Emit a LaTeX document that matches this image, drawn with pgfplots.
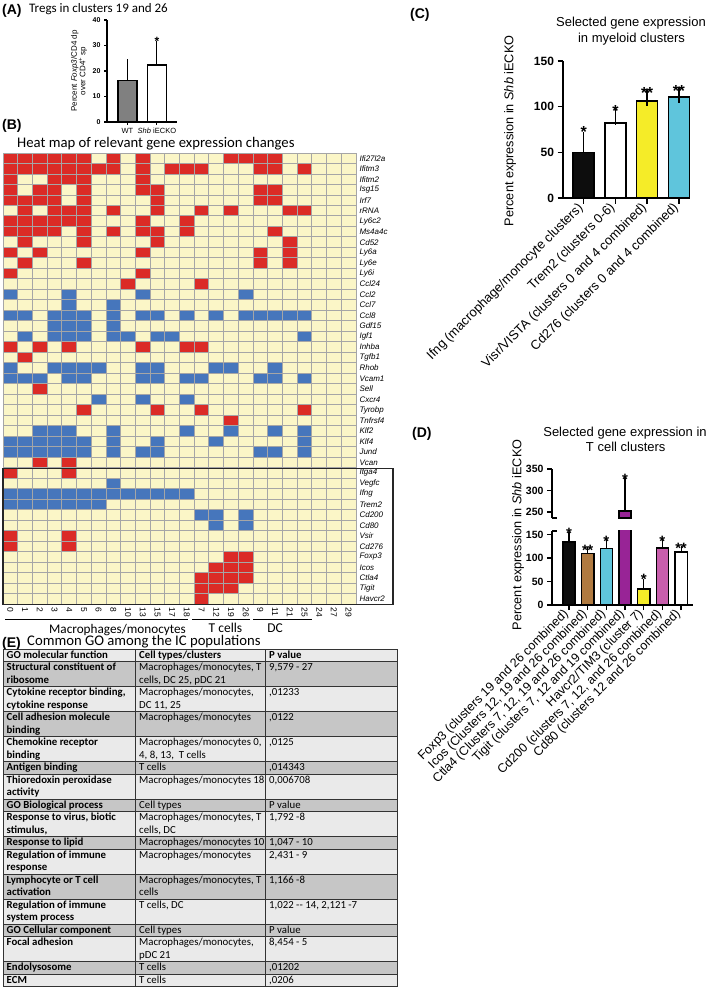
\documentclass[border=0pt]{standalone}
\usepackage{fontspec}
\setmainfont{Liberation Sans}
\newfontfamily\cf{Carlito}
\usepackage{pgfplots}
\pgfplotsset{compat=1.18}
\definecolor{cyanbar}{RGB}{95,197,220}
\definecolor{yelbar}{RGB}{245,236,40}
\definecolor{brownbar}{RGB}{176,122,64}
\definecolor{purpbar}{RGB}{152,36,150}
\definecolor{pinkbar}{RGB}{200,94,172}
\definecolor{tdark}{RGB}{198,198,198}
\definecolor{tlight}{RGB}{234,234,234}
\newcommand{\tfont}{\cf\fontsize{10.8}{12.5}\selectfont}
\tikzset{tline/.style={line width=0.7pt, black!80},
  star/.style={font=\bfseries\fontsize{16}{16}\selectfont, anchor=base, inner sep=0pt, yshift=-9.3pt},
  stard/.style={font=\bfseries\fontsize{15}{15}\selectfont, anchor=base, inner sep=0pt, yshift=-8.7pt}}
\newcommand{\trow}[6]{%
  \fill[#3] (3pt,{-#1pt}) rectangle (397pt,{-#2pt});
  \draw[tline] (3pt,{-#1pt}) -- (397pt,{-#1pt});
  \node[anchor=base west, inner sep=0pt, font=\tfont\bfseries] at (6.5pt,{-(#1+9.3)*1pt}) {\begin{tabular}[t]{@{}l@{}}#4\end{tabular}};
  \node[anchor=base west, inner sep=0pt, font=\tfont] at (139pt,{-(#1+9.3)*1pt}) {\begin{tabular}[t]{@{}l@{}}#5\end{tabular}};
  \node[anchor=base west, inner sep=0pt, font=\tfont] at (269pt,{-(#1+9.3)*1pt}) {\begin{tabular}[t]{@{}l@{}}#6\end{tabular}};
}
\begin{document}
\begin{tikzpicture}
\useasboundingbox (0,0) rectangle (709pt,-992pt);

% ---------------- Panel A ----------------
\node[anchor=base west, inner sep=0pt, font=\bfseries\fontsize{14}{16}\selectfont] at (2pt,-14.5pt) {(A)};
\node[anchor=base west, inner sep=0pt, font=\cf\fontsize{13}{15}\selectfont] at (29pt,-12.5pt) {Tregs in clusters 19 and 26};
\begin{axis}[at={(107pt,-122pt)}, anchor=south west, scale only axis, width=70pt, height=102pt,
  xmin=-0.69, xmax=1.68, ymin=0, ymax=40,
  axis x line*=bottom, axis y line*=left, axis line style={line width=1.2pt},
  tick style={line width=1.1pt, black}, tick align=outside, major tick length=3pt,
  /pgf/number format/assume math mode=true,
  xtick={0,1}, xticklabels={WT, \textit{Shb} iECKO},
  xticklabel style={font=\fontsize{7.5}{9}\selectfont},
  ytick={0,10,20,30,40}, yticklabel style={font=\bfseries\fontsize{7}{8}\selectfont},
  ylabel={Percent \textit{Foxp3}/CD4 dp\\over CD4\textsuperscript{+} sp},
  ylabel style={align=center, font=\fontsize{8}{8.5}\selectfont, at={(axis description cs:-0.40,0.5)}, anchor=center},
  clip mode=individual]
\addplot[ybar, bar width=19pt, bar shift=0pt, fill=gray, draw=black, line width=1.5pt,
  error bars/.cd, y dir=plus, y explicit, error bar style={line width=1pt}, error mark options={line width=1pt, mark size=6pt}]
  coordinates {(0,16.2) +- (0,6.1)};
\addplot[ybar, bar width=19pt, bar shift=0pt, fill=white, draw=black, line width=1.5pt,
  error bars/.cd, y dir=plus, y explicit, error bar style={line width=1pt}, error mark options={line width=1pt, mark size=6pt}]
  coordinates {(1,22.3) +- (0,7.2)};
\node[font=\bfseries\fontsize{12}{12}\selectfont, anchor=base, inner sep=0pt, yshift=-7pt] at (axis cs:1,32.8) {*};
\end{axis}

% ---------------- Panel B ----------------
\node[anchor=base west, inner sep=0pt, font=\bfseries\fontsize{14}{16}\selectfont] at (2pt,-130pt) {(B)};
\node[anchor=base west, inner sep=0pt, font=\cf\fontsize{14.7}{17}\selectfont] at (17pt,-147.7pt) {Heat map of relevant gene expression changes};
\begin{axis}[at={(3pt,-604pt)}, anchor=south west, scale only axis, width=353pt, height=451pt,
  xmin=-0.5, xmax=23.5, ymin=-0.5, ymax=42.5, y dir=reverse,
  colormap={hm}{rgb255(0)=(251,246,199) rgb255(1)=(219,43,38) rgb255(2)=(70,118,188)},
  point meta min=0, point meta max=2,
  xtick={0,...,23}, xticklabels={0,1,2,3,4,5,6,8,10,13,15,17,18,7,12,19,26,9,11,21,25,24,27,29},
  xticklabel style={rotate=-90, anchor=west, font=\fontsize{8.5}{9}\selectfont},
  ytick={0,...,42}, yticklabel pos=right,
  yticklabels={Ifi27l2a,Ifitm3,Ifitm2,Isg15,Irf7,rRNA,Ly6c2,Ms4a4c,Cd52,Ly6a,Ly6e,Ly6i,Ccl24,Ccl2,Ccl7,Ccl8,Gdf15,Igf1,Inhba,Tgfb1,Rhob,Vcam1,Sell,Cxcr4,Tyrobp,Tnfrsf4,Klf2,Klf4,Jund,Vcan,Itga4,Vegfc,Ifng,Trem2,Cd200,Cd80,Vsir,Cd276,Foxp3,Icos,Ctla4,Tigit,Havcr2},
  yticklabel style={font=\itshape\fontsize{8}{9}\selectfont, anchor=west},
  major tick length=0pt, minor tick length=0pt,
  minor xtick={-0.5,0.5,...,23.5}, minor ytick={-0.5,0.5,...,42.5},
  grid=minor, minor grid style={draw=gray!70, line width=0.9pt},
  axis line style={draw=gray!70, line width=0.9pt},
  axis on top]
\addplot[matrix plot*, mesh/cols=24, point meta=explicit] table[meta=c, row sep=\\] {
x y c\\
0 0 1\\1 0 1\\2 0 1\\3 0 1\\4 0 1\\5 0 1\\6 0 0\\7 0 1\\8 0 0\\9 0 1\\10 0 0\\11 0 0\\12 0 0\\13 0 0\\14 0 0\\15 0 1\\16 0 1\\17 0 1\\18 0 1\\19 0 0\\20 0 0\\21 0 0\\22 0 0\\23 0 0\\
0 1 1\\1 1 1\\2 1 1\\3 1 1\\4 1 1\\5 1 1\\6 1 1\\7 1 1\\8 1 0\\9 1 1\\10 1 0\\11 1 1\\12 1 1\\13 1 1\\14 1 0\\15 1 0\\16 1 0\\17 1 1\\18 1 1\\19 1 0\\20 1 1\\21 1 0\\22 1 0\\23 1 0\\
0 2 1\\1 2 0\\2 2 0\\3 2 1\\4 2 1\\5 2 1\\6 2 0\\7 2 0\\8 2 0\\9 2 1\\10 2 0\\11 2 0\\12 2 0\\13 2 0\\14 2 0\\15 2 0\\16 2 0\\17 2 0\\18 2 0\\19 2 0\\20 2 0\\21 2 0\\22 2 0\\23 2 0\\
0 3 1\\1 3 0\\2 3 1\\3 3 1\\4 3 0\\5 3 1\\6 3 0\\7 3 0\\8 3 0\\9 3 1\\10 3 1\\11 3 0\\12 3 0\\13 3 0\\14 3 0\\15 3 0\\16 3 0\\17 3 1\\18 3 1\\19 3 0\\20 3 0\\21 3 0\\22 3 0\\23 3 0\\
0 4 1\\1 4 1\\2 4 1\\3 4 1\\4 4 0\\5 4 1\\6 4 0\\7 4 0\\8 4 0\\9 4 0\\10 4 1\\11 4 0\\12 4 0\\13 4 0\\14 4 0\\15 4 0\\16 4 0\\17 4 1\\18 4 1\\19 4 0\\20 4 0\\21 4 0\\22 4 0\\23 4 0\\
0 5 0\\1 5 1\\2 5 0\\3 5 1\\4 5 1\\5 5 1\\6 5 0\\7 5 1\\8 5 0\\9 5 0\\10 5 1\\11 5 0\\12 5 0\\13 5 1\\14 5 0\\15 5 1\\16 5 0\\17 5 0\\18 5 0\\19 5 1\\20 5 1\\21 5 0\\22 5 0\\23 5 0\\
0 6 1\\1 6 1\\2 6 1\\3 6 1\\4 6 1\\5 6 1\\6 6 0\\7 6 0\\8 6 0\\9 6 1\\10 6 0\\11 6 0\\12 6 1\\13 6 0\\14 6 0\\15 6 0\\16 6 0\\17 6 0\\18 6 0\\19 6 0\\20 6 0\\21 6 0\\22 6 0\\23 6 0\\
0 7 1\\1 7 1\\2 7 1\\3 7 1\\4 7 0\\5 7 1\\6 7 0\\7 7 1\\8 7 0\\9 7 1\\10 7 1\\11 7 0\\12 7 1\\13 7 0\\14 7 0\\15 7 0\\16 7 0\\17 7 0\\18 7 1\\19 7 0\\20 7 0\\21 7 0\\22 7 0\\23 7 0\\
0 8 0\\1 8 1\\2 8 0\\3 8 0\\4 8 0\\5 8 1\\6 8 0\\7 8 0\\8 8 0\\9 8 0\\10 8 1\\11 8 0\\12 8 0\\13 8 0\\14 8 0\\15 8 0\\16 8 0\\17 8 0\\18 8 0\\19 8 1\\20 8 0\\21 8 0\\22 8 0\\23 8 0\\
0 9 1\\1 9 0\\2 9 1\\3 9 0\\4 9 0\\5 9 0\\6 9 0\\7 9 0\\8 9 0\\9 9 1\\10 9 0\\11 9 0\\12 9 0\\13 9 0\\14 9 0\\15 9 0\\16 9 0\\17 9 1\\18 9 0\\19 9 1\\20 9 0\\21 9 0\\22 9 0\\23 9 0\\
0 10 0\\1 10 1\\2 10 0\\3 10 0\\4 10 0\\5 10 1\\6 10 0\\7 10 0\\8 10 0\\9 10 0\\10 10 0\\11 10 0\\12 10 0\\13 10 0\\14 10 0\\15 10 0\\16 10 0\\17 10 1\\18 10 0\\19 10 1\\20 10 0\\21 10 0\\22 10 0\\23 10 0\\
0 11 1\\1 11 0\\2 11 0\\3 11 0\\4 11 0\\5 11 0\\6 11 0\\7 11 0\\8 11 0\\9 11 1\\10 11 0\\11 11 0\\12 11 0\\13 11 0\\14 11 0\\15 11 0\\16 11 0\\17 11 0\\18 11 0\\19 11 0\\20 11 0\\21 11 0\\22 11 0\\23 11 0\\
0 12 0\\1 12 0\\2 12 0\\3 12 0\\4 12 0\\5 12 0\\6 12 0\\7 12 0\\8 12 1\\9 12 0\\10 12 0\\11 12 0\\12 12 0\\13 12 1\\14 12 0\\15 12 0\\16 12 0\\17 12 0\\18 12 0\\19 12 0\\20 12 0\\21 12 0\\22 12 0\\23 12 0\\
0 13 2\\1 13 0\\2 13 0\\3 13 0\\4 13 2\\5 13 0\\6 13 0\\7 13 0\\8 13 0\\9 13 2\\10 13 0\\11 13 0\\12 13 0\\13 13 0\\14 13 0\\15 13 0\\16 13 2\\17 13 0\\18 13 0\\19 13 0\\20 13 0\\21 13 0\\22 13 0\\23 13 0\\
0 14 0\\1 14 0\\2 14 0\\3 14 0\\4 14 2\\5 14 0\\6 14 0\\7 14 2\\8 14 0\\9 14 0\\10 14 0\\11 14 0\\12 14 0\\13 14 0\\14 14 0\\15 14 0\\16 14 0\\17 14 0\\18 14 0\\19 14 0\\20 14 0\\21 14 0\\22 14 0\\23 14 0\\
0 15 2\\1 15 2\\2 15 0\\3 15 2\\4 15 2\\5 15 2\\6 15 0\\7 15 2\\8 15 0\\9 15 2\\10 15 2\\11 15 0\\12 15 2\\13 15 0\\14 15 2\\15 15 0\\16 15 2\\17 15 2\\18 15 2\\19 15 2\\20 15 2\\21 15 0\\22 15 0\\23 15 0\\
0 16 0\\1 16 0\\2 16 0\\3 16 2\\4 16 2\\5 16 2\\6 16 0\\7 16 2\\8 16 0\\9 16 0\\10 16 0\\11 16 0\\12 16 0\\13 16 0\\14 16 0\\15 16 0\\16 16 0\\17 16 0\\18 16 0\\19 16 0\\20 16 0\\21 16 0\\22 16 0\\23 16 0\\
0 17 0\\1 17 2\\2 17 0\\3 17 2\\4 17 2\\5 17 2\\6 17 0\\7 17 2\\8 17 2\\9 17 0\\10 17 2\\11 17 2\\12 17 0\\13 17 0\\14 17 0\\15 17 0\\16 17 0\\17 17 0\\18 17 0\\19 17 0\\20 17 2\\21 17 0\\22 17 0\\23 17 0\\
0 18 1\\1 18 0\\2 18 1\\3 18 0\\4 18 1\\5 18 0\\6 18 0\\7 18 0\\8 18 0\\9 18 1\\10 18 0\\11 18 0\\12 18 1\\13 18 1\\14 18 0\\15 18 0\\16 18 0\\17 18 0\\18 18 0\\19 18 0\\20 18 0\\21 18 0\\22 18 0\\23 18 0\\
0 19 0\\1 19 1\\2 19 0\\3 19 0\\4 19 0\\5 19 0\\6 19 0\\7 19 0\\8 19 0\\9 19 0\\10 19 0\\11 19 0\\12 19 0\\13 19 0\\14 19 0\\15 19 0\\16 19 0\\17 19 0\\18 19 0\\19 19 0\\20 19 0\\21 19 0\\22 19 0\\23 19 0\\
0 20 2\\1 20 0\\2 20 0\\3 20 2\\4 20 2\\5 20 2\\6 20 2\\7 20 0\\8 20 0\\9 20 2\\10 20 2\\11 20 0\\12 20 0\\13 20 0\\14 20 2\\15 20 2\\16 20 0\\17 20 0\\18 20 2\\19 20 0\\20 20 0\\21 20 0\\22 20 0\\23 20 0\\
0 21 2\\1 21 2\\2 21 2\\3 21 0\\4 21 2\\5 21 2\\6 21 0\\7 21 0\\8 21 0\\9 21 2\\10 21 2\\11 21 0\\12 21 2\\13 21 2\\14 21 0\\15 21 0\\16 21 0\\17 21 2\\18 21 2\\19 21 0\\20 21 2\\21 21 0\\22 21 0\\23 21 0\\
0 22 0\\1 22 0\\2 22 1\\3 22 0\\4 22 0\\5 22 0\\6 22 0\\7 22 0\\8 22 0\\9 22 0\\10 22 0\\11 22 0\\12 22 0\\13 22 0\\14 22 0\\15 22 0\\16 22 0\\17 22 0\\18 22 0\\19 22 0\\20 22 0\\21 22 0\\22 22 0\\23 22 0\\
0 23 0\\1 23 0\\2 23 0\\3 23 0\\4 23 0\\5 23 0\\6 23 2\\7 23 0\\8 23 0\\9 23 2\\10 23 0\\11 23 0\\12 23 2\\13 23 0\\14 23 0\\15 23 0\\16 23 0\\17 23 0\\18 23 0\\19 23 0\\20 23 0\\21 23 0\\22 23 0\\23 23 0\\
0 24 0\\1 24 0\\2 24 0\\3 24 0\\4 24 0\\5 24 1\\6 24 0\\7 24 0\\8 24 0\\9 24 0\\10 24 1\\11 24 0\\12 24 0\\13 24 1\\14 24 0\\15 24 0\\16 24 0\\17 24 0\\18 24 0\\19 24 0\\20 24 1\\21 24 0\\22 24 0\\23 24 0\\
0 25 0\\1 25 0\\2 25 0\\3 25 0\\4 25 0\\5 25 0\\6 25 0\\7 25 0\\8 25 0\\9 25 0\\10 25 0\\11 25 0\\12 25 0\\13 25 0\\14 25 0\\15 25 1\\16 25 0\\17 25 0\\18 25 0\\19 25 0\\20 25 0\\21 25 0\\22 25 0\\23 25 0\\
0 26 0\\1 26 0\\2 26 2\\3 26 2\\4 26 2\\5 26 0\\6 26 0\\7 26 2\\8 26 0\\9 26 0\\10 26 0\\11 26 0\\12 26 2\\13 26 0\\14 26 0\\15 26 2\\16 26 0\\17 26 0\\18 26 2\\19 26 0\\20 26 2\\21 26 0\\22 26 0\\23 26 0\\
0 27 2\\1 27 2\\2 27 2\\3 27 2\\4 27 2\\5 27 2\\6 27 0\\7 27 2\\8 27 0\\9 27 0\\10 27 2\\11 27 0\\12 27 0\\13 27 0\\14 27 2\\15 27 0\\16 27 0\\17 27 0\\18 27 0\\19 27 0\\20 27 2\\21 27 0\\22 27 0\\23 27 0\\
0 28 2\\1 28 2\\2 28 2\\3 28 2\\4 28 2\\5 28 2\\6 28 0\\7 28 2\\8 28 0\\9 28 2\\10 28 2\\11 28 0\\12 28 0\\13 28 0\\14 28 0\\15 28 0\\16 28 0\\17 28 2\\18 28 2\\19 28 0\\20 28 2\\21 28 0\\22 28 0\\23 28 0\\
0 29 0\\1 29 0\\2 29 1\\3 29 0\\4 29 1\\5 29 0\\6 29 0\\7 29 0\\8 29 0\\9 29 0\\10 29 0\\11 29 0\\12 29 0\\13 29 0\\14 29 0\\15 29 0\\16 29 0\\17 29 0\\18 29 0\\19 29 0\\20 29 0\\21 29 0\\22 29 0\\23 29 0\\
0 30 1\\1 30 0\\2 30 0\\3 30 0\\4 30 1\\5 30 0\\6 30 0\\7 30 0\\8 30 0\\9 30 0\\10 30 0\\11 30 0\\12 30 0\\13 30 0\\14 30 0\\15 30 0\\16 30 0\\17 30 0\\18 30 0\\19 30 0\\20 30 0\\21 30 0\\22 30 0\\23 30 0\\
0 31 0\\1 31 0\\2 31 0\\3 31 0\\4 31 0\\5 31 0\\6 31 0\\7 31 2\\8 31 0\\9 31 0\\10 31 0\\11 31 0\\12 31 0\\13 31 0\\14 31 0\\15 31 0\\16 31 0\\17 31 0\\18 31 0\\19 31 0\\20 31 0\\21 31 0\\22 31 0\\23 31 0\\
0 32 2\\1 32 2\\2 32 2\\3 32 2\\4 32 2\\5 32 2\\6 32 2\\7 32 2\\8 32 2\\9 32 2\\10 32 2\\11 32 2\\12 32 2\\13 32 0\\14 32 0\\15 32 0\\16 32 0\\17 32 0\\18 32 0\\19 32 0\\20 32 0\\21 32 0\\22 32 0\\23 32 0\\
0 33 2\\1 33 2\\2 33 2\\3 33 2\\4 33 2\\5 33 2\\6 33 2\\7 33 0\\8 33 0\\9 33 0\\10 33 0\\11 33 0\\12 33 0\\13 33 0\\14 33 0\\15 33 0\\16 33 0\\17 33 0\\18 33 0\\19 33 0\\20 33 0\\21 33 0\\22 33 0\\23 33 0\\
0 34 0\\1 34 0\\2 34 0\\3 34 0\\4 34 0\\5 34 0\\6 34 0\\7 34 0\\8 34 0\\9 34 0\\10 34 0\\11 34 0\\12 34 0\\13 34 2\\14 34 2\\15 34 0\\16 34 2\\17 34 0\\18 34 0\\19 34 0\\20 34 0\\21 34 0\\22 34 0\\23 34 0\\
0 35 0\\1 35 0\\2 35 0\\3 35 0\\4 35 0\\5 35 0\\6 35 0\\7 35 0\\8 35 0\\9 35 0\\10 35 0\\11 35 0\\12 35 0\\13 35 0\\14 35 2\\15 35 0\\16 35 2\\17 35 0\\18 35 0\\19 35 0\\20 35 0\\21 35 0\\22 35 0\\23 35 0\\
0 36 1\\1 36 0\\2 36 0\\3 36 0\\4 36 1\\5 36 0\\6 36 0\\7 36 0\\8 36 0\\9 36 0\\10 36 0\\11 36 0\\12 36 0\\13 36 0\\14 36 0\\15 36 0\\16 36 0\\17 36 0\\18 36 0\\19 36 0\\20 36 0\\21 36 0\\22 36 0\\23 36 0\\
0 37 1\\1 37 0\\2 37 0\\3 37 0\\4 37 1\\5 37 0\\6 37 0\\7 37 0\\8 37 0\\9 37 0\\10 37 0\\11 37 0\\12 37 0\\13 37 0\\14 37 0\\15 37 0\\16 37 0\\17 37 0\\18 37 0\\19 37 0\\20 37 0\\21 37 0\\22 37 0\\23 37 0\\
0 38 0\\1 38 0\\2 38 0\\3 38 0\\4 38 0\\5 38 0\\6 38 0\\7 38 0\\8 38 0\\9 38 0\\10 38 0\\11 38 0\\12 38 0\\13 38 0\\14 38 0\\15 38 1\\16 38 1\\17 38 0\\18 38 0\\19 38 0\\20 38 0\\21 38 0\\22 38 0\\23 38 0\\
0 39 0\\1 39 0\\2 39 0\\3 39 0\\4 39 0\\5 39 0\\6 39 0\\7 39 0\\8 39 0\\9 39 0\\10 39 0\\11 39 0\\12 39 0\\13 39 0\\14 39 1\\15 39 1\\16 39 1\\17 39 0\\18 39 0\\19 39 0\\20 39 0\\21 39 0\\22 39 0\\23 39 0\\
0 40 0\\1 40 0\\2 40 0\\3 40 0\\4 40 0\\5 40 0\\6 40 0\\7 40 0\\8 40 0\\9 40 0\\10 40 0\\11 40 0\\12 40 0\\13 40 1\\14 40 1\\15 40 1\\16 40 1\\17 40 0\\18 40 0\\19 40 0\\20 40 0\\21 40 0\\22 40 0\\23 40 0\\
0 41 0\\1 41 0\\2 41 0\\3 41 0\\4 41 0\\5 41 0\\6 41 0\\7 41 0\\8 41 0\\9 41 0\\10 41 0\\11 41 0\\12 41 0\\13 41 1\\14 41 1\\15 41 1\\16 41 0\\17 41 0\\18 41 0\\19 41 0\\20 41 0\\21 41 0\\22 41 0\\23 41 0\\
0 42 0\\1 42 0\\2 42 0\\3 42 0\\4 42 0\\5 42 0\\6 42 0\\7 42 0\\8 42 0\\9 42 0\\10 42 0\\11 42 0\\12 42 0\\13 42 1\\14 42 0\\15 42 0\\16 42 0\\17 42 0\\18 42 0\\19 42 0\\20 42 0\\21 42 0\\22 42 0\\23 42 0\\
};
\end{axis}
\draw[line width=1.4pt, black!85] (3pt,-468.3pt) rectangle (393pt,-604.3pt);
% group labels
\draw[line width=0.8pt] (5pt,-619.5pt) -- (188pt,-619.5pt);
\draw[line width=0.8pt] (192pt,-619.5pt) -- (250pt,-619.5pt);
\draw[line width=0.8pt] (253pt,-619.5pt) -- (312pt,-619.5pt);
\node[anchor=base west, inner sep=0pt, font=\cf\fontsize{13.2}{15}\selectfont] at (49pt,-633pt) {Macrophages/monocytes};
\node[anchor=base, inner sep=0pt, font=\cf\fontsize{13.5}{15}\selectfont] at (225.5pt,-632pt) {T cells};
\node[anchor=base, inner sep=0pt, font=\cf\fontsize{13.5}{15}\selectfont] at (275pt,-632pt) {DC};

% ---------------- Panel E ----------------
\node[anchor=base west, inner sep=0pt, font=\bfseries\fontsize{14}{16}\selectfont] at (2pt,-647pt) {(E)};
\node[anchor=base west, inner sep=0pt, font=\cf\fontsize{14.7}{17}\selectfont] at (27pt,-645.5pt) {Common GO among the IC populations};
\trow{649}{661.5}{tlight}{GO molecular function}{\textbf{Cell types/clusters}}{\textbf{P value}}
\trow{661.5}{686.5}{tdark}{Structural constituent of\\ribosome}{Macrophages/monocytes, T\\cells, DC 25, pDC 21}{9,579 - 27}
\trow{686.5}{711.5}{tlight}{Cytokine receptor binding,\\cytokine response}{Macrophages/monocytes,\\DC 11, 25}{,01233}
\trow{711.5}{736.5}{tdark}{Cell adhesion molecule\\binding}{Macrophages/monocytes}{,0122}
\trow{736.5}{761.5}{tlight}{Chemokine receptor\\binding}{Macrophages/monocytes 0,\\4, 8, 13,\ \ T cells}{,0125}
\trow{761.5}{774}{tdark}{Antigen binding}{T cells}{,014343}
\trow{774}{799}{tlight}{Thioredoxin peroxidase\\activity}{Macrophages/monocytes 18}{0,006708}
\trow{799}{811.5}{tdark}{GO Biological process}{Cell types}{P value}
\trow{811.5}{836.5}{tlight}{Response to virus, biotic\\stimulus,}{Macrophages/monocytes, T\\cells, DC}{1,792 -8}
\trow{836.5}{849}{tdark}{Response to lipid}{Macrophages/monocytes 10}{1,047 - 10}
\trow{849}{874}{tlight}{Regulation of immune\\response}{Macrophages/monocytes}{2,431 - 9}
\trow{874}{899}{tdark}{Lymphocyte or T cell\\activation}{Macrophages/monocytes, T\\cells}{1,166 -8}
\trow{899}{924}{tlight}{Regulation of immune\\system process}{T cells, DC}{1,022 -- 14, 2,121 -7}
\trow{924}{936.5}{tdark}{GO Cellular component}{Cell types}{P value}
\trow{936.5}{961.5}{tlight}{Focal adhesion}{Macrophages/monocytes,\\pDC 21}{8,454 - 5}
\trow{961.5}{974}{tdark}{Endolysosome}{T cells}{,01202}
\trow{974}{986.5}{tlight}{ECM}{T cells}{,0206}
\draw[tline] (135pt,-649pt) -- (135pt,-986.5pt);
\draw[tline] (265pt,-649pt) -- (265pt,-986.5pt);
\draw[tline, line width=0.9pt] (3pt,-649pt) rectangle (397pt,-986.5pt);

% ---------------- Panel C ----------------
\node[anchor=base west, inner sep=0pt, font=\bfseries\fontsize{14}{16}\selectfont] at (410pt,-18.5pt) {(C)};
\node[anchor=base, inner sep=0pt, font=\fontsize{13}{15}\selectfont] at (631pt,-26.7pt) {Selected gene expression};
\node[anchor=base, inner sep=0pt, font=\fontsize{13}{15}\selectfont] at (631.5pt,-42.7pt) {in myeloid clusters};
\begin{axis}[at={(563pt,-198pt)}, anchor=south west, scale only axis, width=127pt, height=137pt,
  xmin=-0.65, xmax=3.35, ymin=0, ymax=150,
  axis x line*=bottom, axis y line*=left, axis line style={line width=1.6pt},
  tick style={line width=1.6pt, black}, tick align=outside, major tick length=5.5pt,
  /pgf/number format/assume math mode=true,
  ytick={0,50,100,150}, yticklabel style={font=\bfseries\fontsize{12}{14}\selectfont},
  xtick={0,1,2,3},
  xticklabels={Ifng (macrophage/monocyte clusters), Trem2 (clusters 0-6), Visr/VISTA (clusters 0 and 4 combined), Cd276 (clusters 0 and 4 combined)},
  xticklabel style={rotate=45, anchor=east, font=\fontsize{13}{15}\selectfont},
  ylabel={Percent expression in \textit{Shb} iECKO},
  ylabel style={font=\fontsize{12.7}{15}\selectfont, at={(axis description cs:-0.417,0.49)}, anchor=center},
  clip mode=individual]
\addplot[ybar, bar width=21pt, bar shift=0pt, fill=black!95, draw=black, line width=1.6pt,
  error bars/.cd, y dir=plus, y explicit, error bar style={line width=1.3pt}, error mark options={line width=1.3pt, mark size=8pt}]
  coordinates {(0,50) +- (0,13)};
\addplot[ybar, bar width=21pt, bar shift=0pt, fill=white, draw=black, line width=1.6pt,
  error bars/.cd, y dir=plus, y explicit, error bar style={line width=1.3pt}, error mark options={line width=1.3pt, mark size=8pt}]
  coordinates {(1,82) +- (0,7)};
\addplot[ybar, bar width=21pt, bar shift=0pt, fill=yelbar, draw=black, line width=1.6pt,
  error bars/.cd, y dir=plus, y explicit, error bar style={line width=1.3pt}, error mark options={line width=1.3pt, mark size=8pt}]
  coordinates {(2,106.5) +- (0,2.5)};
\addplot[ybar, bar width=21pt, bar shift=0pt, fill=cyanbar, draw=black, line width=1.6pt,
  error bars/.cd, y dir=plus, y explicit, error bar style={line width=1.3pt}, error mark options={line width=1.3pt, mark size=8pt}]
  coordinates {(3,110.5) +- (0,2.2)};
\node[star] at (axis cs:0,76.3) {*};
\node[star] at (axis cs:1,99.3) {*};
\node[star] at (axis cs:2,119) {*\kern-0.5pt*};
\node[star] at (axis cs:3,121.2) {*\kern-0.5pt*};
\end{axis}

% ---------------- Panel D ----------------
\node[anchor=base west, inner sep=0pt, font=\bfseries\fontsize{14}{16}\selectfont] at (412pt,-437.5pt) {(D)};
\node[anchor=base, inner sep=0pt, font=\fontsize{13}{15}\selectfont] at (625pt,-436pt) {Selected gene expression in};
\node[anchor=base, inner sep=0pt, font=\fontsize{13}{15}\selectfont] at (625.7pt,-451.5pt) {T cell clusters};
% upper segment
\begin{axis}[at={(552pt,-518pt)}, anchor=south west, scale only axis, width=141pt, height=49pt,
  xmin=-0.91, xmax=6.64, ymin=236, ymax=350,
  axis x line=none, axis y line*=left, axis line style={line width=1.3pt},
  xtick=\empty,
  tick style={line width=1.3pt, black}, tick align=outside, major tick length=5pt,
  /pgf/number format/assume math mode=true,
  ytick={250,300,350}, yticklabel style={font=\bfseries\fontsize{10.5}{12}\selectfont},
  clip mode=individual]
\addplot[ybar, bar width=12.3pt, bar shift=0pt, fill=purpbar, draw=black, line width=1.4pt,
  error bars/.cd, y dir=plus, y explicit, error bar style={line width=1.1pt}, error mark options={line width=1.1pt, mark size=3.5pt}]
  coordinates {(3,252) +- (0,72)};
\node[stard] at (axis cs:3,335) {*};
\draw[line width=1.3pt] (rel axis cs:0,0) -- ++(5pt,0pt);
\end{axis}
% lower segment
\begin{axis}[at={(552pt,-605pt)}, anchor=south west, scale only axis, width=141pt, height=74.1pt,
  xmin=-0.91, xmax=6.64, ymin=0, ymax=158,
  axis x line*=bottom, axis y line*=left, axis line style={line width=1.3pt},
  tick style={line width=1.3pt, black}, tick align=outside, major tick length=5pt,
  /pgf/number format/assume math mode=true,
  ytick={0,50,100,150}, yticklabel style={font=\bfseries\fontsize{10.5}{12}\selectfont},
  xtick={0,...,6},
  xticklabels={{Foxp3 (clusters 19 and 26 combined)}, {Icos (Clusters 12, 19 and 26 combined)}, {Ctla4 (Clusters 7, 12, 19 and 26 combined)}, {Tigit (clusters 7, 12 and 19 combined)}, {Havcr2/TIM3 (cluster 7)}, {Cd200 (clusters 7, 12, and 26 combined)}, {Cd80 (clusters 12 and 26 combined)}},
  xticklabel style={rotate=45, anchor=east, font=\fontsize{12.5}{14}\selectfont},
  ylabel={Percent expression in \textit{Shb} iECKO},
  ylabel style={font=\fontsize{12.7}{15}\selectfont, at={(axis description cs:-0.241,0.946)}, anchor=center},
  clip mode=individual]
\addplot[ybar, bar width=12.3pt, bar shift=0pt, fill=black!95, draw=black, line width=1.4pt,
  error bars/.cd, y dir=plus, y explicit, error bar style={line width=1.1pt}, error mark options={line width=1.1pt, mark size=3.5pt}]
  coordinates {(0,134) +- (0,14.5)};
\addplot[ybar, bar width=12.3pt, bar shift=0pt, fill=brownbar, draw=black, line width=1.4pt,
  error bars/.cd, y dir=plus, y explicit, error bar style={line width=1.1pt}, error mark options={line width=1.1pt, mark size=3.5pt}]
  coordinates {(1,109.5) +- (0,6)};
\addplot[ybar, bar width=12.3pt, bar shift=0pt, fill=cyanbar, draw=black, line width=1.4pt,
  error bars/.cd, y dir=plus, y explicit, error bar style={line width=1.1pt}, error mark options={line width=1.1pt, mark size=3.5pt}]
  coordinates {(2,120) +- (0,13)};
\addplot[ybar, bar width=12.3pt, bar shift=0pt, fill=purpbar, draw=black, line width=1.4pt,
  error bars/.cd, y dir=plus, y explicit, error bar style={line width=1.1pt}, error mark options={line width=1.1pt, mark size=3.5pt}]
  coordinates {(3,252) +- (0,72)};
\addplot[ybar, bar width=12.3pt, bar shift=0pt, fill=yelbar, draw=black, line width=1.4pt,
  error bars/.cd, y dir=plus, y explicit, error bar style={line width=1.1pt}, error mark options={line width=1.1pt, mark size=3.5pt}]
  coordinates {(4,34) +- (0,14)};
\addplot[ybar, bar width=12.3pt, bar shift=0pt, fill=pinkbar, draw=black, line width=1.4pt,
  error bars/.cd, y dir=plus, y explicit, error bar style={line width=1.1pt}, error mark options={line width=1.1pt, mark size=3.5pt}]
  coordinates {(5,121.5) +- (0,12.5)};
\addplot[ybar, bar width=12.3pt, bar shift=0pt, fill=white, draw=black, line width=1.4pt,
  error bars/.cd, y dir=plus, y explicit, error bar style={line width=1.1pt}, error mark options={line width=1.1pt, mark size=3.5pt}]
  coordinates {(6,113) +- (0,4.5)};
\node[stard] at (axis cs:0,160.5) {*};
\node[stard] at (axis cs:1,124.3) {*\kern-0.5pt*};
\node[stard] at (axis cs:2,143.5) {*};
\node[stard] at (axis cs:4,62.5) {*};
\node[stard] at (axis cs:5,143.5) {*};
\node[stard] at (axis cs:6,128) {*\kern-0.5pt*};
\draw[line width=1.3pt] (rel axis cs:0,1) -- ++(5pt,0pt);
\end{axis}
\end{tikzpicture}
\end{document}
